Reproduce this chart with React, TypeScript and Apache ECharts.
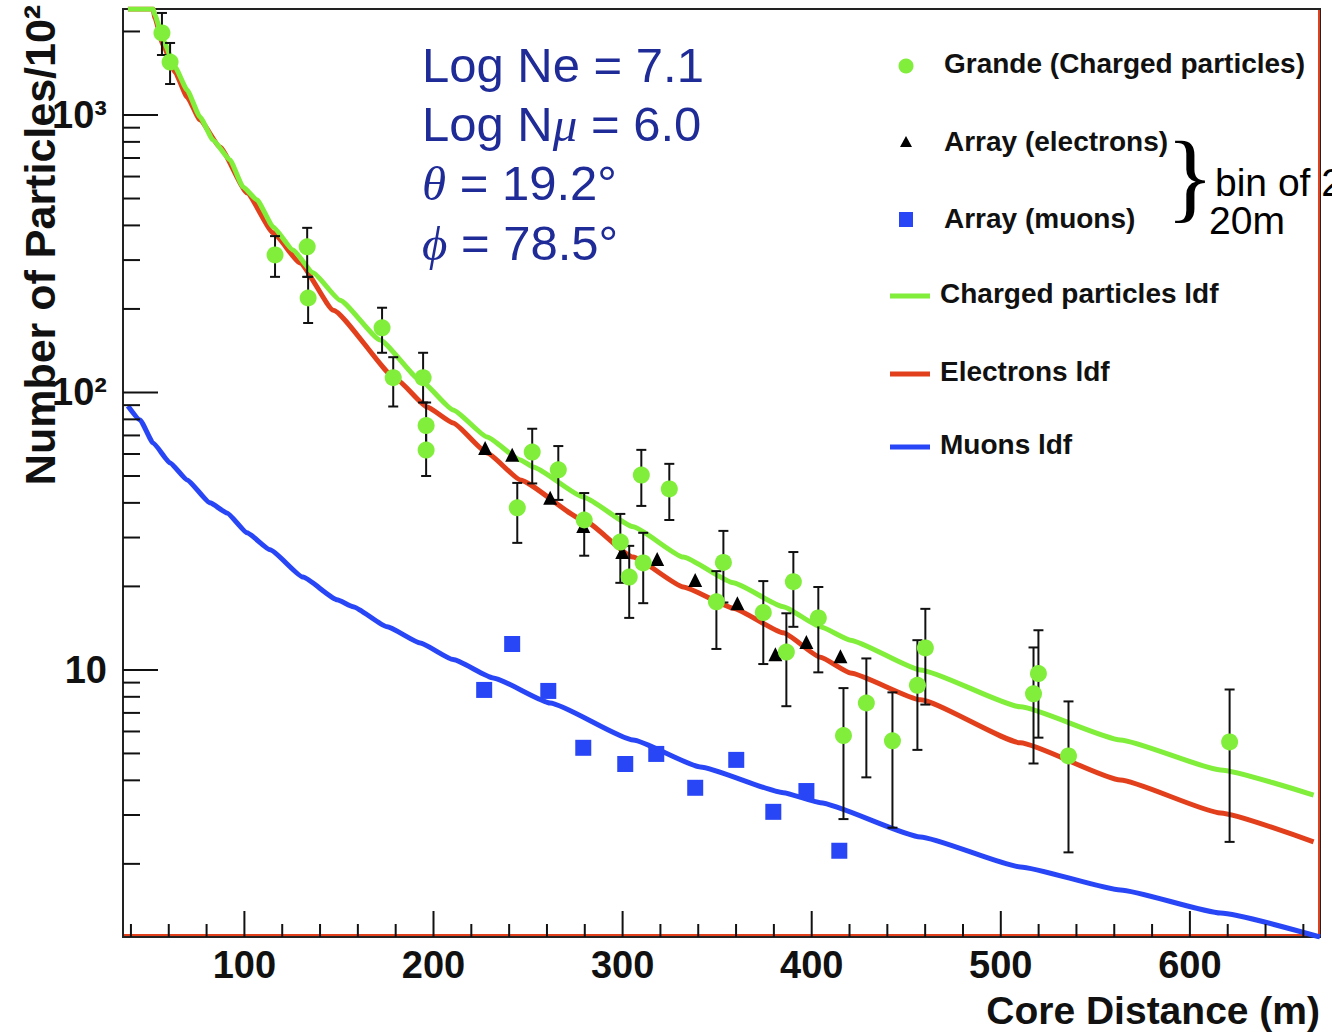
import React, { useEffect, useRef } from "react";
import * as echarts from "echarts";

// ---------- axis ranges / ticks ----------
const X_MIN = 35.8;
const X_MAX = 668.8;
const Y_MIN = 1.09;
const Y_MAX = 2410;
const X_MAJOR_TICKS = [100, 200, 300, 400, 500, 600];
const X_MINOR_TICKS = [40, 60, 80, 120, 140, 160, 180, 220, 240, 260, 280, 320, 340, 360, 380, 420, 440, 460, 480, 520, 540, 560, 580, 620, 640, 660];
const Y_MAJOR_TICKS = [10, 100, 1000];
const Y_MINOR_TICKS = [2, 3, 4, 5, 6, 7, 8, 9, 20, 30, 40, 50, 60, 70, 80, 90, 200, 300, 400, 500, 600, 700, 800, 900, 2000];

// ---------- Grande (charged particles) ----------
const GRANDE_X = [56.4, 60.7, 116.2, 133.2, 133.7, 172.8, 178.7, 194.5, 196.1, 196.1, 252.2, 244.3, 266.0, 279.7, 298.8, 303.5, 309.9, 324.7, 310.9, 353.3, 349.6, 374.4, 390.3, 386.6, 403.5, 416.8, 428.9, 442.7, 455.9, 460.1, 517.3, 519.9, 535.8, 621.0];
const GRANDE_Y = [1975, 1552, 313, 335, 219, 171, 113, 113, 76, 62, 61, 38.4, 52.6, 34.7, 28.9, 21.6, 50.4, 44.9, 24.3, 24.4, 17.6, 16.1, 20.8, 11.6, 15.4, 5.8, 7.6, 5.55, 8.8, 12.0, 8.2, 9.7, 4.9, 5.5];
const GRANDE_LO = [1645, 1293, 261, 261, 178, 139, 89, 92, 62, 50, 47, 28.7, 41.0, 25.8, 20.6, 15.4, 39.0, 34.7, 17.4, 17.5, 11.9, 10.5, 14.3, 7.4, 9.8, 2.9, 4.1, 2.7, 5.15, 7.5, 4.6, 5.7, 2.2, 2.4];
const GRANDE_HI = [2332, 1818, 366, 392, 261, 202, 134, 139, 92, 76, 74, 47.2, 64.1, 43.4, 36.5, 28.0, 62.1, 55.3, 31.2, 31.7, 22.7, 20.9, 26.6, 16.0, 19.9, 8.6, 11.0, 8.3, 12.8, 16.6, 12.05, 13.9, 7.7, 8.5];

// ---------- Array (electrons) ----------
const ARRAY_E_X = [227.3, 241.6, 261.7, 279.2, 299.8, 318.3, 338.4, 360.7, 380.8, 397.2, 415.2];
const ARRAY_E_Y = [63.1, 59.6, 41.7, 33.0, 26.6, 25.1, 21.1, 17.4, 11.4, 12.6, 11.2];

// ---------- Array (muons) ----------
const ARRAY_MU_X = [226.8, 241.6, 260.7, 279.2, 301.4, 317.8, 338.4, 360.1, 379.7, 397.2, 414.6];
const ARRAY_MU_Y = [8.47, 12.4, 8.4, 5.24, 4.58, 4.98, 3.76, 4.74, 3.08, 3.66, 2.23];

// ---------- LDF curves ----------
const LDF_CH_X = [38.4, 51.7, 52.7, 57.0, 63.3, 69.7, 76.5, 83.4, 92.4, 99.3, 106.7, 115.2, 125.7, 136.3, 150.6, 171.8, 192.9, 210.4, 228.4, 245.9, 252.7, 279.2, 305.6, 332.1, 358.5, 385.0, 404.6, 420.5, 457.5, 510.4, 563.3, 616.2, 665.4];
const LDF_CH_Y = [2410, 2410, 2293, 1863, 1489, 1231, 984, 813, 688, 550, 494, 395, 326, 270, 215, 154.6, 110.9, 86.5, 69.1, 57.1, 53.9, 42.0, 32.8, 25.5, 20.6, 16.9, 14.3, 12.8, 10.0, 7.36, 5.59, 4.36, 3.54];

const LDF_E_X = [38.4, 51.7, 52.7, 57.0, 63.3, 69.7, 76.5, 87.1, 101.4, 115.2, 129.4, 147.0, 180.8, 196.6, 210.4, 228.4, 245.9, 279.2, 305.6, 332.1, 358.5, 385.0, 404.6, 420.5, 457.5, 510.4, 563.3, 616.2, 665.4];
const LDF_E_Y = [2410, 2410, 2236, 1788, 1429, 1161, 959, 767, 523, 376, 293, 198, 110.9, 88.6, 77.6, 60.5, 48.4, 34.7, 25.5, 19.9, 16.7, 13.6, 11.1, 9.75, 7.8, 5.46, 4.01, 3.05, 2.40];

const LDF_MU_X = [38.4, 44.8, 51.7, 60.7, 69.7, 81.8, 90.8, 101.4, 113.6, 131.0, 149.0, 157.5, 175.5, 193.0, 210.4, 231.6, 261.7, 305.6, 341.1, 385.0, 404.6, 457.5, 510.4, 563.3, 616.2, 668.8];
const LDF_MU_Y = [89.4, 79.6, 65.8, 55.7, 48.4, 40.0, 36.8, 31.2, 27.1, 21.6, 17.9, 16.9, 14.3, 12.5, 10.9, 9.36, 7.6, 5.59, 4.47, 3.61, 3.32, 2.50, 1.95, 1.61, 1.33, 1.09];

// ---------- texts ----------
const ANNOTATIONS = ["Log Ne = 7.1", "Log N{i|μ} = 6.0", "{i|θ} = 19.2°", "{i|ϕ} = 78.5°"];
const LEGEND_LABELS = ["Grande (Charged particles)", "Array (electrons)", "Array (muons)", "Charged particles ldf", "Electrons ldf", "Muons ldf"];

const GREEN = "#80ee3a";
const RED = "#e2401c";
const BLUE = "#2846f5";
const NAVY = "#1f2b97";
const FONT = "Liberation Sans";

const zip = (xs: number[], ys: number[]) => xs.map((x, i) => [x, ys[i]]);

function buildOption() {
  const tickStyle = { stroke: "#111", lineWidth: 2 };
  const xTickData = [
    ...X_MAJOR_TICKS.map((v) => [v, Y_MIN, 1]),
    ...X_MINOR_TICKS.map((v) => [v, Y_MIN, 0]),
  ];
  const yTickData = [
    ...Y_MAJOR_TICKS.map((v) => [X_MIN, v, 1]),
    ...Y_MINOR_TICKS.map((v) => [X_MIN, v, 0]),
  ];

  const legendRowsY = [63, 141, 218, 293, 371, 444];
  const graphic: any[] = [];
  // red inner frame lines (right and bottom)
  graphic.push({ type: "line", silent: true, shape: { x1: 1319, y1: 10, x2: 1319, y2: 936 }, style: { stroke: RED, lineWidth: 2 } });
  graphic.push({ type: "line", silent: true, shape: { x1: 124, y1: 935, x2: 1320, y2: 935 }, style: { stroke: RED, lineWidth: 2 } });

  // annotations
  const annY = [65, 124, 183, 243];
  ANNOTATIONS.forEach((t, i) => {
    graphic.push({
      type: "text",
      x: 422,
      y: annY[i],
      style: {
        text: t,
        fontSize: 49,
        fontFamily: FONT,
        fill: NAVY,
        verticalAlign: "middle",
        rich: {
          i: { fontSize: 49, fontFamily: "Liberation Serif", fontStyle: "italic", fill: NAVY },
        },
      },
    });
  });

  // legend markers
  graphic.push({ type: "circle", shape: { cx: 906, cy: legendRowsY[0] + 3, r: 7.5 }, style: { fill: GREEN } });
  graphic.push({ type: "polygon", shape: { points: [[906, legendRowsY[1] - 5], [900, legendRowsY[1] + 6], [912, legendRowsY[1] + 6]] }, style: { fill: "#000" } });
  graphic.push({ type: "rect", shape: { x: 899, y: legendRowsY[2] - 6, width: 14, height: 15 }, style: { fill: BLUE } });
  [GREEN, RED, BLUE].forEach((c, i) => {
    graphic.push({ type: "line", shape: { x1: 890, y1: legendRowsY[3 + i] + 3, x2: 930, y2: legendRowsY[3 + i] + 3 }, style: { stroke: c, lineWidth: 5 } });
  });
  LEGEND_LABELS.forEach((t, i) => {
    graphic.push({
      type: "text",
      x: i < 3 ? 944 : 940,
      y: legendRowsY[i],
      style: { text: t, fontSize: 28, fontWeight: "bold", fontFamily: FONT, fill: "#111", verticalAlign: "middle" },
    });
  });

  // brace + bin text
  graphic.push({ type: "text", x: 1190, y: 176, style: { text: "}", fontSize: 100, fontFamily: "Liberation Serif", fill: "#000", align: "center", verticalAlign: "middle" } });
  graphic.push({ type: "text", x: 1215, y: 182, style: { text: "bin of 2", fontSize: 39, lineHeight: 34, fontFamily: FONT, fill: "#000", verticalAlign: "middle" } });
  graphic.push({ type: "text", x: 1209, y: 220, style: { text: "20m", fontSize: 39, lineHeight: 34, fontFamily: FONT, fill: "#000", verticalAlign: "middle" } });

  // axis titles
  graphic.push({
    type: "text",
    x: 40,
    y: 245,
    rotation: Math.PI / 2,
    style: { text: "Number of Particles/10²", fontSize: 43, fontWeight: "bold", fontFamily: FONT, fill: "#111", align: "center", verticalAlign: "middle" },
  });
  graphic.push({
    type: "text",
    x: 1320,
    y: 1010,
    style: { text: "Core Distance (m)", fontSize: 39, fontWeight: "bold", fontFamily: FONT, fill: "#111", align: "right", verticalAlign: "middle" },
  });

  const lineCommon = { type: "line", symbol: "none", smooth: 0.15, smoothMonotone: "x", z: 2 };

  return {
    animation: false,
    backgroundColor: "#fff",
    grid: { left: 123, top: 9, width: 1197, height: 928, show: true, borderColor: "#222", borderWidth: 2, backgroundColor: "transparent" },
    xAxis: {
      type: "value",
      min: X_MIN,
      max: X_MAX,
      splitNumber: 6,
      minInterval: 100,
      maxInterval: 100,
      axisLine: { show: false },
      axisTick: { show: false },
      splitLine: { show: false },
      axisLabel: {
        showMinLabel: false,
        showMaxLabel: false,
        margin: 9,
        fontSize: 38,
        fontWeight: "bold",
        fontFamily: FONT,
        color: "#111",
        formatter: (v: number) => (Math.abs(v % 100) < 1e-6 ? String(Math.round(v)) : ""),
      },
    },
    yAxis: {
      type: "log",
      logBase: 10,
      min: Y_MIN,
      max: Y_MAX,
      axisLine: { show: false },
      axisTick: { show: false },
      splitLine: { show: false },
      axisLabel: {
        showMinLabel: false,
        showMaxLabel: false,
        margin: 16,
        fontSize: 38,
        fontWeight: "bold",
        fontFamily: FONT,
        color: "#111",
        formatter: (v: number) => {
          const e = Math.log10(v);
          const r = Math.round(e);
          if (Math.abs(e - r) > 1e-6) return "";
          if (r === 1) return "10";
          if (r === 2) return "10²";
          if (r === 3) return "10³";
          return "";
        },
      },
    },
    graphic,
    series: [
      { ...lineCommon, name: "Muons ldf", data: zip(LDF_MU_X, LDF_MU_Y), lineStyle: { color: BLUE, width: 5 } },
      { ...lineCommon, name: "Electrons ldf", data: zip(LDF_E_X, LDF_E_Y), lineStyle: { color: RED, width: 5 } },
      { ...lineCommon, name: "Charged particles ldf", data: zip(LDF_CH_X, LDF_CH_Y), lineStyle: { color: GREEN, width: 5 } },
      {
        name: "error bars",
        type: "custom",
        z: 3,
        silent: true,
        encode: { x: 0, y: [1, 2] },
        data: GRANDE_X.map((x, i) => [x, GRANDE_LO[i], GRANDE_HI[i]]),
        renderItem: (params: any, api: any) => {
          const x = api.value(0);
          const lo = api.coord([x, api.value(1)]);
          const hi = api.coord([x, api.value(2)]);
          const cap = 5;
          const st = { stroke: "#111", lineWidth: 2 };
          return {
            type: "group",
            children: [
              { type: "line", shape: { x1: hi[0], y1: hi[1], x2: lo[0], y2: lo[1] }, style: st },
              { type: "line", shape: { x1: hi[0] - cap, y1: hi[1], x2: hi[0] + cap, y2: hi[1] }, style: st },
              { type: "line", shape: { x1: lo[0] - cap, y1: lo[1], x2: lo[0] + cap, y2: lo[1] }, style: st },
            ],
          };
        },
      },
      {
        name: "Array (muons)",
        type: "scatter",
        data: zip(ARRAY_MU_X, ARRAY_MU_Y),
        symbol: "rect",
        symbolSize: 16,
        itemStyle: { color: BLUE, opacity: 1 },
        z: 4,
      },
      {
        name: "Array (electrons)",
        type: "scatter",
        data: zip(ARRAY_E_X, ARRAY_E_Y),
        symbol: "triangle",
        symbolSize: 14,
        itemStyle: { color: "#000", opacity: 1 },
        z: 4,
      },
      {
        name: "Grande (Charged particles)",
        type: "scatter",
        data: zip(GRANDE_X, GRANDE_Y),
        symbol: "circle",
        symbolSize: 17,
        itemStyle: { color: GREEN, opacity: 1 },
        z: 5,
      },
      {
        name: "x ticks",
        type: "custom",
        silent: true,
        z: 6,
        clip: false,
        encode: { x: 0, y: 1 },
        data: xTickData,
        renderItem: (params: any, api: any) => {
          const p = api.coord([api.value(0), api.value(1)]);
          const len = api.value(2) ? 26 : 13;
          return { type: "line", shape: { x1: p[0], y1: p[1], x2: p[0], y2: p[1] - len }, style: tickStyle };
        },
      },
      {
        name: "y ticks",
        type: "custom",
        silent: true,
        z: 6,
        clip: false,
        encode: { x: 0, y: 1 },
        data: yTickData,
        renderItem: (params: any, api: any) => {
          const p = api.coord([api.value(0), api.value(1)]);
          const len = api.value(2) ? 35 : 17;
          return { type: "line", shape: { x1: p[0], y1: p[1], x2: p[0] + len, y2: p[1] }, style: tickStyle };
        },
      },
    ],
  };
}

export default function App() {
  const ref = useRef<HTMLDivElement>(null);
  useEffect(() => {
    document.body.style.margin = "0";
    if (!ref.current) return;
    const chart = echarts.init(ref.current, null, { renderer: "svg" });
    chart.setOption(buildOption() as any);
    return () => {
      chart.dispose();
    };
  }, []);
  return <div ref={ref} style={{ width: 1332, height: 1035, background: "#fff" }} />;
}
